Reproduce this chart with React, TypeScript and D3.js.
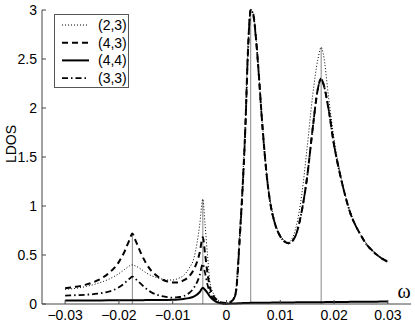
import { useEffect, useRef } from "react";
import * as d3 from "d3";

// frequency grid (shared by all series)
const OMEGA = [
  -0.03, -0.028, -0.026, -0.024, -0.022, -0.02, -0.019, -0.018, -0.0175, -0.017,
  -0.016, -0.015, -0.014, -0.013, -0.012, -0.011, -0.01, -0.009, -0.008, -0.007,
  -0.006, -0.005, -0.0044, -0.004, -0.0035, -0.003, -0.002, -0.001, 0,
  0.001, 0.0017, 0.0025, 0.003, 0.0035, 0.004, 0.0045, 0.005, 0.0055, 0.006,
  0.0065, 0.007, 0.0075, 0.008, 0.009, 0.01, 0.011, 0.0115, 0.012, 0.013,
  0.014, 0.015, 0.016, 0.017, 0.0176, 0.018, 0.019, 0.02, 0.021, 0.022,
  0.023, 0.024, 0.025, 0.026, 0.027, 0.028, 0.029, 0.03,
];

const LDOS_23 = [
  0.15, 0.16, 0.18, 0.21, 0.25, 0.31, 0.35, 0.39, 0.4, 0.39,
  0.36, 0.32, 0.29, 0.27, 0.255, 0.245, 0.245, 0.26, 0.29, 0.36,
  0.48, 0.8, 1.07, 0.82, 0.48, 0.2, 0.07, 0.02, 0.01,
  0.04, 0.13, 0.76, 1.25, 1.85, 2.65, 3.0, 2.97, 2.72, 2.37,
  1.97, 1.62, 1.32, 1.1, 0.84, 0.7, 0.64, 0.63, 0.65, 0.8,
  1.12, 1.6, 2.12, 2.5, 2.62, 2.55, 2.1, 1.68, 1.37, 1.13,
  0.94, 0.81, 0.7, 0.62, 0.56, 0.5, 0.47, 0.44,
];

const LDOS_43 = [
  0.16, 0.175, 0.2, 0.24, 0.31, 0.43, 0.53, 0.66, 0.72, 0.66,
  0.53, 0.42, 0.34, 0.29, 0.25, 0.23, 0.22, 0.22, 0.24, 0.28,
  0.36, 0.52, 0.68, 0.52, 0.3, 0.15, 0.05, 0.015, 0.01,
  0.03, 0.11, 0.72, 1.2, 1.8, 2.6, 3.0, 2.95, 2.7, 2.35,
  1.95, 1.6, 1.3, 1.08, 0.82, 0.69, 0.63, 0.62, 0.63, 0.72,
  0.95, 1.3, 1.78, 2.2, 2.3, 2.25, 1.98, 1.62, 1.35, 1.12,
  0.93, 0.8, 0.7, 0.61, 0.55, 0.5, 0.46, 0.43,
];

const LDOS_44 = [
  0.035, 0.035, 0.035, 0.036, 0.037, 0.038, 0.038, 0.039, 0.039, 0.039,
  0.039, 0.04, 0.04, 0.04, 0.041, 0.042, 0.044, 0.047, 0.052, 0.06,
  0.078, 0.12, 0.165, 0.145, 0.11, 0.07, 0.025, 0.008, 0.003,
  0.004, 0.006, 0.008, 0.009, 0.01, 0.011, 0.012, 0.012, 0.012, 0.013,
  0.013, 0.013, 0.014, 0.014, 0.015, 0.015, 0.016, 0.016, 0.016, 0.017,
  0.017, 0.018, 0.018, 0.019, 0.019, 0.019, 0.02, 0.02, 0.021, 0.021,
  0.022, 0.022, 0.023, 0.023, 0.024, 0.024, 0.025, 0.025,
];

const LDOS_33 = [
  0.085, 0.09, 0.095, 0.105, 0.125, 0.17, 0.21, 0.26, 0.28, 0.26,
  0.21, 0.16, 0.12, 0.095, 0.08, 0.07, 0.065, 0.07, 0.08, 0.11,
  0.17, 0.29, 0.41, 0.32, 0.19, 0.1, 0.03, 0.01, 0.005,
  0.03, 0.1, 0.7, 1.18, 1.78, 2.58, 3.0, 2.94, 2.69, 2.34,
  1.94, 1.59, 1.3, 1.08, 0.82, 0.69, 0.63, 0.62, 0.63, 0.72,
  0.95, 1.3, 1.78, 2.2, 2.3, 2.25, 1.98, 1.62, 1.35, 1.12,
  0.93, 0.8, 0.7, 0.61, 0.55, 0.5, 0.46, 0.43,
];

// thin grey markers at the resonance positions
const STEM_OMEGA = [-0.0175, -0.0044, 0.0045, 0.0176];
const STEM_TOP = [0.72, 1.07, 3.0, 2.62];

const X_TICKS = [-0.03, -0.02, -0.01, 0, 0.01, 0.02, 0.03];
const Y_TICKS = [0, 0.5, 1, 1.5, 2, 2.5, 3];

const SERIES = [
  { label: "(2,3)", values: LDOS_23, width: 1, dash: "1,2" },
  { label: "(4,3)", values: LDOS_43, width: 2, dash: "6,4" },
  { label: "(4,4)", values: LDOS_44, width: 2, dash: null },
  { label: "(3,3)", values: LDOS_33, width: 1.8, dash: "6,3,1.5,3" },
];

const FONT = "'Liberation Sans', Arial, Helvetica, sans-serif";

export default function App() {
  const svgRef = useRef<SVGSVGElement>(null);

  useEffect(() => {
    if (!svgRef.current) return;
    const W = 415;
    const H = 324;
    const svg = d3.select(svgRef.current);
    svg.selectAll("*").remove();
    svg.attr("width", W).attr("height", H);

    const x = d3.scaleLinear().domain([-0.0343, 0.0343]).range([42, 411]);
    const y = d3.scaleLinear().domain([0, 3]).range([304, 10]);

    svg.append("defs").append("clipPath").attr("id", "plot-clip")
      .append("rect").attr("x", 42).attr("y", 9).attr("width", 370).attr("height", 296);

    // stems
    svg.append("g").selectAll("line")
      .data(STEM_OMEGA)
      .join("line")
      .attr("x1", (d) => x(d)).attr("x2", (d) => x(d))
      .attr("y1", y(0)).attr("y2", (_, i) => y(STEM_TOP[i]))
      .attr("stroke", "#888").attr("stroke-width", 1);

    // curves
    const line = d3.line<number>()
      .x((_, i) => x(OMEGA[i]))
      .y((d) => y(d))
      .curve(d3.curveMonotoneX);

    const plot = svg.append("g").attr("clip-path", "url(#plot-clip)");
    SERIES.forEach((s) => {
      plot.append("path")
        .attr("d", line(s.values))
        .attr("fill", "none")
        .attr("stroke", "#000")
        .attr("stroke-width", s.width)
        .attr("stroke-dasharray", s.dash)
        .attr("stroke-linejoin", "round");
    });

    // axes (left + bottom only, ticks inward)
    const axisColor = "#444";
    svg.append("line")
      .attr("x1", 42).attr("x2", 42).attr("y1", y(3)).attr("y2", y(0))
      .attr("stroke", axisColor);
    svg.append("line")
      .attr("x1", 42).attr("x2", 411).attr("y1", y(0)).attr("y2", y(0))
      .attr("stroke", axisColor);

    const yt = svg.append("g").selectAll("g").data(Y_TICKS).join("g");
    yt.append("line")
      .attr("x1", 42).attr("x2", 46)
      .attr("y1", (d) => y(d)).attr("y2", (d) => y(d))
      .attr("stroke", axisColor);
    yt.append("text")
      .attr("x", 37).attr("y", (d) => y(d) + 5)
      .attr("text-anchor", "end")
      .attr("font-family", FONT).attr("font-size", 14)
      .text((d) => String(d));

    const xt = svg.append("g").selectAll("g").data(X_TICKS).join("g");
    xt.append("line")
      .attr("x1", (d) => x(d)).attr("x2", (d) => x(d))
      .attr("y1", y(0)).attr("y2", y(0) - 4)
      .attr("stroke", axisColor);
    xt.append("text")
      .attr("x", (d) => x(d)).attr("y", 320)
      .attr("text-anchor", "middle")
      .attr("font-family", FONT).attr("font-size", 14)
      .text((d) => (d < 0 ? "\u2212" : "") + Math.abs(d).toString());

    svg.append("text")
      .attr("x", 404).attr("y", 298)
      .attr("text-anchor", "middle")
      .attr("font-family", "'Liberation Serif', 'DejaVu Serif', serif")
      .attr("font-size", 20)
      .text("ω");

    svg.append("text")
      .attr("transform", "translate(16,144) rotate(-90)")
      .attr("text-anchor", "middle")
      .attr("font-family", FONT).attr("font-size", 14)
      .text("LDOS");

    // legend
    const lg = svg.append("g");
    lg.append("rect")
      .attr("x", 54.5).attr("y", 14.5).attr("width", 74).attr("height", 73)
      .attr("fill", "#fff").attr("stroke", "#555");
    SERIES.forEach((s, i) => {
      const ly = 25 + i * 17.7;
      lg.append("line")
        .attr("x1", 62).attr("x2", 89).attr("y1", ly).attr("y2", ly)
        .attr("stroke", "#000").attr("stroke-width", s.width)
        .attr("stroke-dasharray", s.dash);
      lg.append("text")
        .attr("x", 98).attr("y", ly + 5)
        .attr("font-family", FONT).attr("font-size", 14)
        .text(s.label);
    });
  }, []);

  return <svg ref={svgRef} style={{ position: "absolute", left: 0, top: 0 }} />;
}
